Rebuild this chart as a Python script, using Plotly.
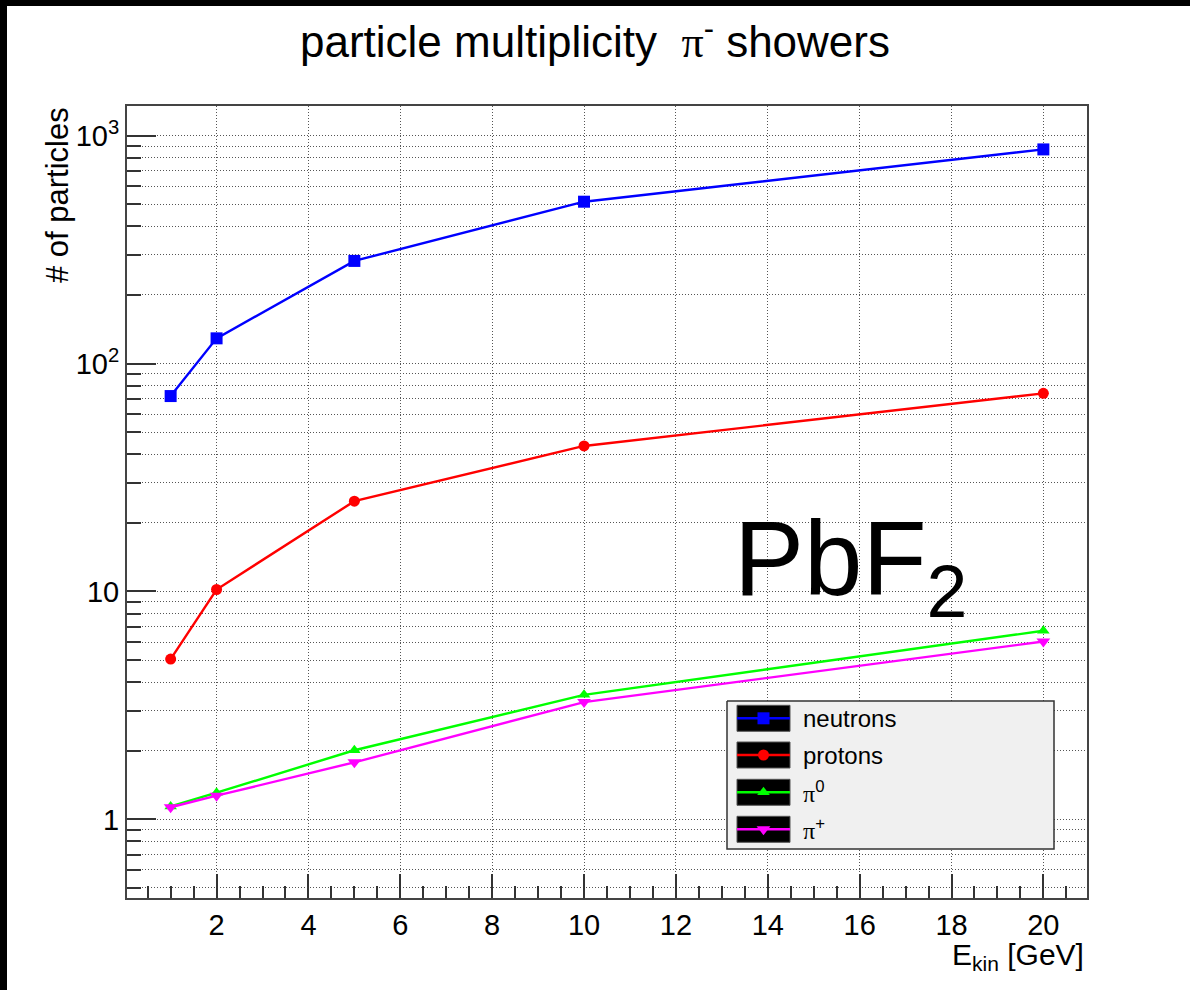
import plotly.graph_objects as go

# Kinetic energy of the incident pi- (GeV)
energy = [1, 2, 5, 10, 20]

# Mean number of secondaries per shower in PbF2
neutrons = [72, 129, 282, 513, 870]
protons = [5.05, 10.2, 24.9, 43.5, 74]
pi_zero = [1.14, 1.31, 2.01, 3.52, 6.72]
pi_plus = [1.13, 1.27, 1.78, 3.27, 6.03]

series_names = ["neutrons", "protons", "π<sup>0</sup>", "π<sup>+</sup>"]
series_values = [neutrons, protons, pi_zero, pi_plus]
series_colors = ["#0000ff", "#ff0000", "#00ff00", "#ff00ff"]
series_symbols = ["square", "circle", "triangle-up", "triangle-down"]
series_sizes = [12, 11, 11, 12]

x_ticks = [2, 4, 6, 8, 10, 12, 14, 16, 18, 20]
y_ticks = [1, 10, 100, 1000]
y_tick_text = ["1", "10", "10<sup>2</sup>", "10<sup>3</sup>"]
y_minor = [m * d for d in (0.1, 1, 10, 100) for m in range(2, 10) if 0.45 <= m * d <= 1300]

W, H = 1190, 990
L, R, T, B = 127, 103, 106, 92
PW, PH = W - L - R, H - T - B

SANS = "Liberation Sans, Arial, Helvetica, sans-serif"
SERIF = "Liberation Serif, Times New Roman, serif"


def paper_x(px):
    return (px - L) / PW


def paper_y(py):
    return (H - B - py) / PH


def greek(label):
    return label.replace("π", f"<span style='font-family:{SERIF}'>π</span>")


fig = go.Figure()

for name, vals, col, sym, sz in zip(series_names, series_values, series_colors,
                                     series_symbols, series_sizes):
    fig.add_trace(go.Scatter(
        x=energy, y=vals, mode="lines+markers", name=name,
        line=dict(color=col, width=2.4),
        marker=dict(symbol=sym, size=sz, color=col, line=dict(width=0)),
        showlegend=False, xaxis="x", yaxis="y",
    ))

# Legend block, drawn on an overlay frame measured in figure pixels
box = dict(x0=727, x1=1054, y0=701, y1=849)
row_y = [718.3, 755.0, 792.3, 829.3]
swatch_x0, swatch_x1, half_h = 737, 790, 13

fig.add_trace(go.Scatter(
    x=[box["x0"], box["x1"], box["x1"], box["x0"], box["x0"]],
    y=[box["y0"], box["y0"], box["y1"], box["y1"], box["y0"]],
    mode="lines", fill="toself", fillcolor="#f0f0f0",
    line=dict(color="#333333", width=1.5),
    hoverinfo="skip", showlegend=False, xaxis="x2", yaxis="y2",
))
for ry, col, sym, sz in zip(row_y, series_colors, series_symbols, series_sizes):
    fig.add_trace(go.Scatter(
        x=[swatch_x0, swatch_x1, swatch_x1, swatch_x0, swatch_x0],
        y=[ry - half_h, ry - half_h, ry + half_h, ry + half_h, ry - half_h],
        mode="lines", fill="toself", fillcolor="#000000",
        line=dict(color="#555555", width=1),
        hoverinfo="skip", showlegend=False, xaxis="x2", yaxis="y2",
    ))
    fig.add_trace(go.Scatter(
        x=[swatch_x0, swatch_x1], y=[ry, ry], mode="lines",
        line=dict(color=col, width=2.4),
        hoverinfo="skip", showlegend=False, xaxis="x2", yaxis="y2",
    ))
    fig.add_trace(go.Scatter(
        x=[(swatch_x0 + swatch_x1) / 2], y=[ry], mode="markers",
        marker=dict(symbol=sym, size=sz, color=col, line=dict(width=0)),
        hoverinfo="skip", showlegend=False, xaxis="x2", yaxis="y2",
    ))

annotations = []
for ry, name in zip(row_y, series_names):
    annotations.append(dict(
        x=801, y=ry, xref="x2", yref="y2", text=greek(name),
        xanchor="left", yanchor="middle", showarrow=False,
        font=dict(family=SANS, size=24, color="#000000"),
    ))

# Material label
annotations.append(dict(
    x=paper_x(732), y=paper_y(566), xref="paper", yref="paper",
    text="PbF<sub>2</sub>", xanchor="left", yanchor="middle", showarrow=False,
    font=dict(family=SANS, size=105, color="#000000"),
))

# Axis titles
annotations.append(dict(
    x=paper_x(57), y=paper_y(195), xref="paper", yref="paper",
    text="# of particles", textangle=-90, xanchor="center", yanchor="middle",
    showarrow=False, font=dict(family=SANS, size=31, color="#000000"),
))
annotations.append(dict(
    x=paper_x(1086), y=paper_y(957), xref="paper", yref="paper",
    text="E<sub>kin</sub> [GeV]", xanchor="right", yanchor="middle",
    showarrow=False, font=dict(family=SANS, size=30, color="#000000"),
))

# Black strips along the top and left edges of the canvas
shapes = [
    dict(type="rect", xref="paper", yref="paper",
         x0=paper_x(0), x1=paper_x(W), y0=paper_y(6), y1=paper_y(0),
         fillcolor="#000000", line=dict(width=0), layer="above"),
    dict(type="rect", xref="paper", yref="paper",
         x0=paper_x(0), x1=paper_x(7), y0=paper_y(H), y1=paper_y(0),
         fillcolor="#000000", line=dict(width=0), layer="above"),
]

grid_style = dict(gridcolor="#555555", gridwidth=1, griddash="1px,2px")

fig.update_layout(
    width=W, height=H,
    margin=dict(l=L, r=R, t=T, b=B, pad=0),
    paper_bgcolor="#ffffff", plot_bgcolor="#ffffff",
    showlegend=False,
    title=dict(
        text="particle multiplicity\u00a0\u00a0" + greek("π<sup>-</sup>") + " showers",
        x=0.5, xanchor="center", xref="container",
        y=1 - 42 / H, yanchor="middle", yref="container",
        font=dict(family=SANS, size=44, color="#000000"),
    ),
    xaxis=dict(
        range=[0.05, 20.95], tickmode="array", tickvals=x_ticks,
        ticks="inside", ticklen=24, tickwidth=1.5, tickcolor="#333333",
        showline=True, linecolor="#444444", linewidth=2, mirror=True,
        showgrid=True, **grid_style, zeroline=False,
        tickfont=dict(family=SANS, size=29, color="#000000"),
        minor=dict(dtick=0.5, tick0=0, ticks="inside", ticklen=12,
                   tickwidth=1.5, tickcolor="#333333", showgrid=False),
    ),
    yaxis=dict(
        type="log", range=[-0.345, 3.130], tickmode="array",
        tickvals=y_ticks, ticktext=y_tick_text,
        ticks="inside", ticklen=29, tickwidth=2, tickcolor="#333333",
        showline=True, linecolor="#444444", linewidth=2, mirror=True,
        showgrid=True, **grid_style, zeroline=False,
        tickfont=dict(family=SANS, size=29, color="#000000"),
        minor=dict(tickmode="array", tickvals=y_minor, ticks="inside",
                   ticklen=14, tickwidth=2, tickcolor="#333333",
                   showgrid=True, **grid_style),
    ),
    xaxis2=dict(overlaying="x", anchor="y2", range=[L, W - R], visible=False,
                fixedrange=True),
    yaxis2=dict(overlaying="y", anchor="x2", range=[H - B, T], visible=False,
                fixedrange=True),
    annotations=annotations,
    shapes=shapes,
)

fig.write_html("out.html")
